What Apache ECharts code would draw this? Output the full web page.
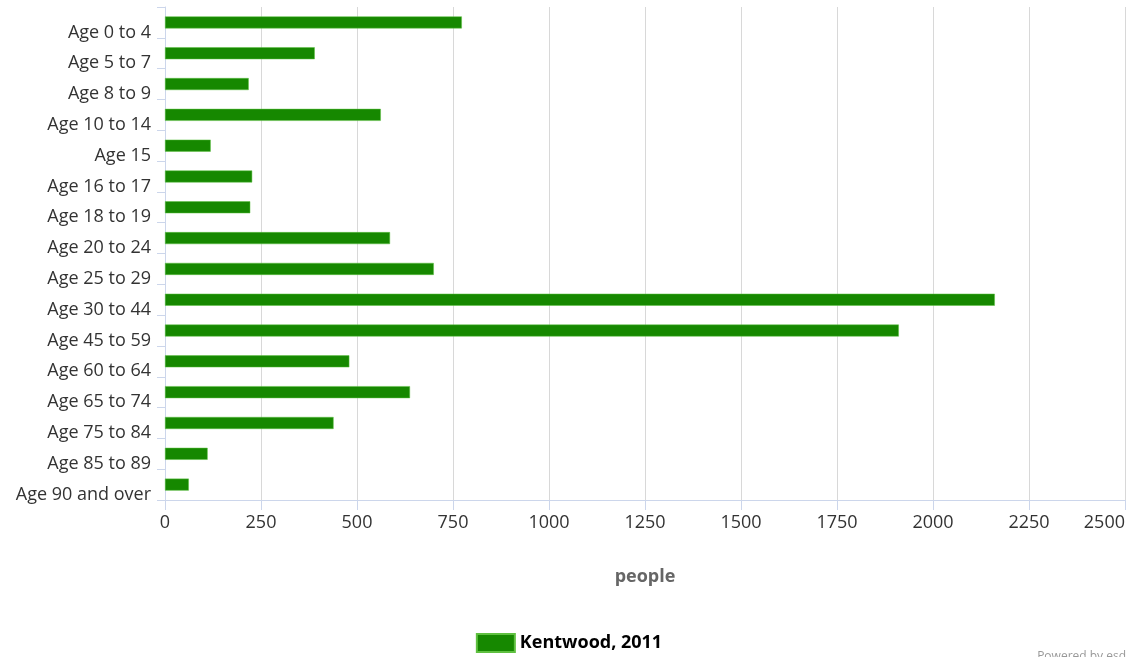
<!DOCTYPE html>
<html><head><meta charset="utf-8">
<script src="https://cdn.jsdelivr.net/npm/echarts@6/dist/echarts.min.js"></script>
<style>html,body{margin:0;padding:0;background:#fff;overflow:hidden}#c{width:1138px;height:657px}</style>
</head><body><div id="c"></div>
<script>
const categories = ["Age 0 to 4","Age 5 to 7","Age 8 to 9","Age 10 to 14","Age 15","Age 16 to 17","Age 18 to 19","Age 20 to 24","Age 25 to 29","Age 30 to 44","Age 45 to 59","Age 60 to 64","Age 65 to 74","Age 75 to 84","Age 85 to 89","Age 90 and over"];
const values = [773, 390, 218, 562, 119, 227, 222, 586, 700, 2161, 1911, 480, 638, 439, 111, 62];
const seriesName = "Kentwood, 2011";
const axisName = "people";
const font = "'Open Sans', sans-serif";

const chart = echarts.init(document.getElementById('c'));
chart.setOption({
  animation: false,
  grid: {left: 165, right: 13, top: 7, bottom: 157, containLabel: false, outerBoundsMode: 'none'},
  xAxis: {
    type: 'value', min: 0, max: 2500, interval: 250,
    name: axisName, nameLocation: 'middle', nameGap: 68,
    nameTextStyle: {color: '#666', fontSize: 18, fontWeight: 'bold', fontFamily: font},
    axisLine: {show: true, lineStyle: {color: '#ccd6eb', width: 1}},
    axisTick: {show: true, length: 10, lineStyle: {color: '#ccd6eb'}},
    axisLabel: {color: '#333', fontSize: 18, fontFamily: font, margin: 14, formatter: v => String(v), alignMaxLabel: 'right'},
    splitLine: {show: true, lineStyle: {color: '#d8d8d8'}}
  },
  yAxis: {
    type: 'category', data: categories, inverse: true,
    axisLine: {show: true, lineStyle: {color: '#ccd6eb'}},
    axisTick: {show: true, length: 8, lineStyle: {color: '#ccd6eb'}},
    axisLabel: {color: '#333', fontSize: 18, fontFamily: font, margin: 14, verticalAlign: 'top', lineHeight: 20}
  },
  legend: {
    bottom: -1, left: 'center', itemWidth: 38, itemHeight: 18, itemGap: 6,
    textStyle: {color: '#000', fontSize: 18, fontWeight: 'bold', fontFamily: font},
    data: [{name: seriesName, icon: 'rect'}]
  },
  graphic: [{type: 'text', right: 12, bottom: -6, style: {text: 'Powered by esd', fill: '#999', fontSize: 12, fontFamily: font}}],
  series: [{
    name: seriesName, type: 'bar', data: values, barWidth: 12,
    itemStyle: {color: '#168800', borderColor: '#5fc040', borderWidth: 0.5}
  }]
});
</script></body></html>
